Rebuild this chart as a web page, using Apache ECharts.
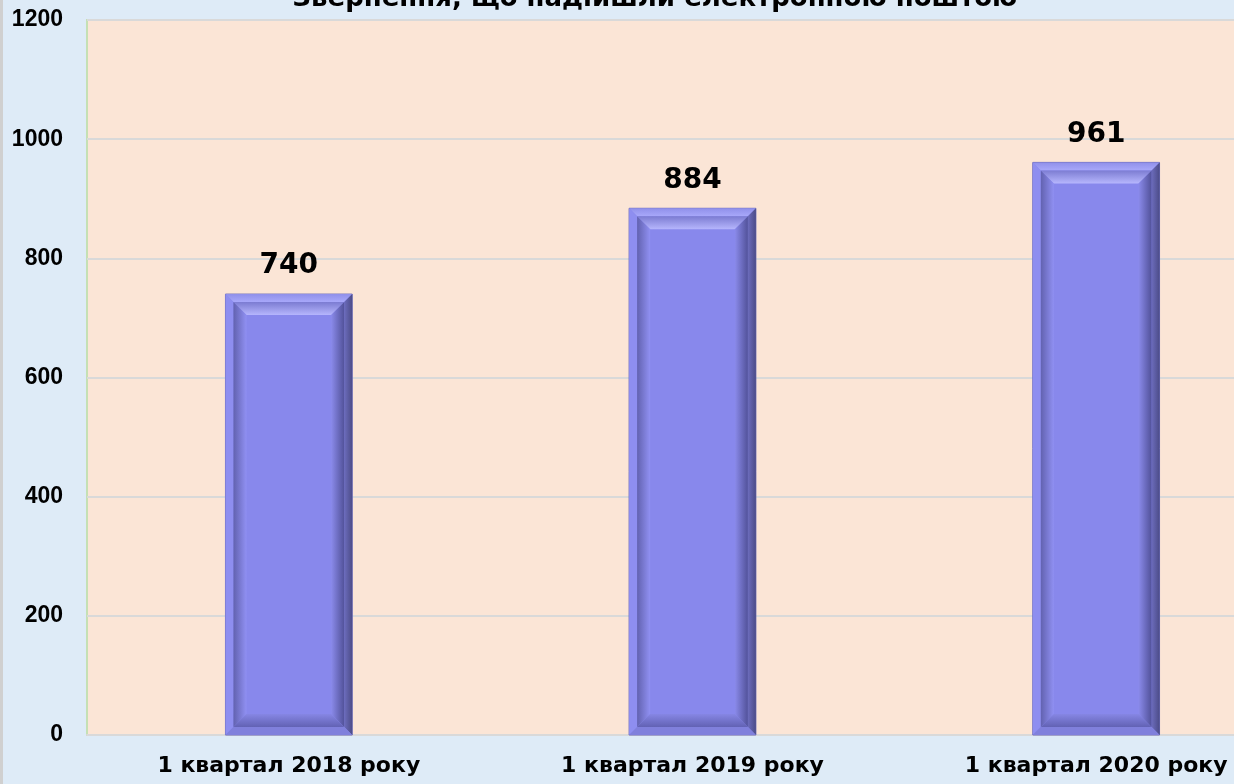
<!DOCTYPE html>
<html>
<head>
<meta charset="utf-8">
<script src="https://cdn.jsdelivr.net/npm/echarts@6/dist/echarts.min.js"></script>
<style>
	html, body {margin: 0; padding: 0; background: #deebf7;}
	#main {width: 1234px; height: 784px;}
</style>
</head>
<body>
<div id="main"></div>
<script>
const titleText = 'Звернення, що надійшли електронною поштою';
const categories = ['1 квартал 2018 року', '1 квартал 2019 року', '1 квартал 2020 року'];
const values = [740, 884, 961];
const yTicks = [0, 200, 400, 600, 800, 1000, 1200];

const myChart = echarts.init(document.getElementById('main'));

const grad = (x, y, x2, y2, c1, c2) => new echarts.graphic.LinearGradient(x, y, x2, y2, [
	{offset: 0, color: c1}, {offset: 1, color: c2}
]);

// bevelled bar, drawn from the scales
function renderBar(params, api) {
	const idx = api.value(0);
	const top = api.coord([idx, api.value(1)]);
	const base = api.coord([idx, 0]);
	const w = api.size([1, 0])[0] * 0.314;
	const x0 = top[0] - w / 2, x1 = top[0] + w / 2;
	const y0 = top[1], y1 = base[1];
	const o = 8, b = 13;
	const ix0 = x0 + o, ix1 = x1 - o, iy0 = y0 + o, iy1 = y1 - o;
	const fx0 = ix0 + b, fx1 = ix1 - b, fy0 = iy0 + b, fy1 = iy1 - b;
	const poly = (pts, fill) => ({type: 'polygon', shape: {points: pts}, style: {fill: fill}});
	return {
		type: 'group',
		children: [
			{type: 'rect', shape: {x: x0, y: y0, width: w, height: y1 - y0}, style: {fill: '#8888ec', stroke: '#6a6ab8', lineWidth: 1}},
			// outer rim
			poly([[x0, y0], [x1, y0], [ix1, iy0], [ix0, iy0]], grad(0, 0, 0, 1, '#9090ea', '#a8a8fa')),
			poly([[x0, y0], [ix0, iy0], [ix0, iy1], [x0, y1]], '#8e8ef0'),
			poly([[x1, y0], [x1, y1], [ix1, iy1], [ix1, iy0]], grad(0, 0, 1, 0, '#6c6cbc', '#4c4c88')),
			poly([[x0, y1], [ix0, iy1], [ix1, iy1], [x1, y1]], '#8080dc'),
			// inner bevel
			poly([[ix0, iy0], [ix1, iy0], [fx1, fy0], [fx0, fy0]], grad(0, 0, 0, 1, '#7c7cd2', '#b6b6fd')),
			poly([[ix0, iy0], [fx0, fy0], [fx0, fy1], [ix0, iy1]], grad(0, 0, 1, 0, '#6262b0', '#9090f2')),
			poly([[ix1, iy0], [ix1, iy1], [fx1, fy1], [fx1, fy0]], grad(0, 0, 1, 0, '#8a8aea', '#52529a')),
			poly([[ix0, iy1], [fx0, fy1], [fx1, fy1], [ix1, iy1]], grad(0, 0, 0, 1, '#8686e4', '#6262b4')),
			{
				type: 'text',
				style: {
					x: top[0], y: y0 - 14, text: String(api.value(1)),
					fill: '#000', font: 'bold 28px "DejaVu Sans", Tahoma, sans-serif',
					align: 'center', verticalAlign: 'bottom'
				}
			}
		]
	};
}

myChart.setOption({
	backgroundColor: '#deebf7',
	animation: false,
	graphic: [
		{type: 'rect', left: 0, top: 0, shape: {width: 3, height: 784}, style: {fill: '#d0d0d0'}, z: 10},
		{
			type: 'text', x: 655, y: 12, z: 10,
			style: {
				text: titleText, fill: '#000',
				font: 'bold 26px "DejaVu Sans", Tahoma, sans-serif',
				align: 'center', verticalAlign: 'bottom'
			}
		}
	],
	grid: {
		left: 87, top: 20, bottom: 49, right: -64,
		outerBoundsMode: 'none',
		show: true, backgroundColor: '#fbe5d6', borderColor: '#c5e0b4', borderWidth: 2
	},
	xAxis: {
		type: 'category',
		data: categories,
		axisLine: {lineStyle: {color: '#d9d9d9', width: 2}},
		axisTick: {show: false},
		axisLabel: {
			margin: 20, color: '#000', fontSize: 22, fontWeight: 'bold',
			fontFamily: '"DejaVu Sans", Tahoma, sans-serif',
			hideOverlap: false
		}
	},
	yAxis: {
		type: 'value',
		min: yTicks[0],
		max: yTicks[yTicks.length - 1],
		interval: 200,
		axisLine: {show: false},
		axisTick: {show: false},
		splitLine: {lineStyle: {color: '#d9d9d9', width: 2}},
		axisLabel: {
			margin: 24, color: '#000', fontSize: 23, fontWeight: 'bold',
			fontFamily: '"Liberation Sans", Arial, sans-serif',
			formatter: v => String(v)
		}
	},
	series: [{
		type: 'custom',
		renderItem: renderBar,
		encode: {x: 0, y: 1},
		data: values.map((v, i) => [i, v])
	}]
});
</script>
</body>
</html>
